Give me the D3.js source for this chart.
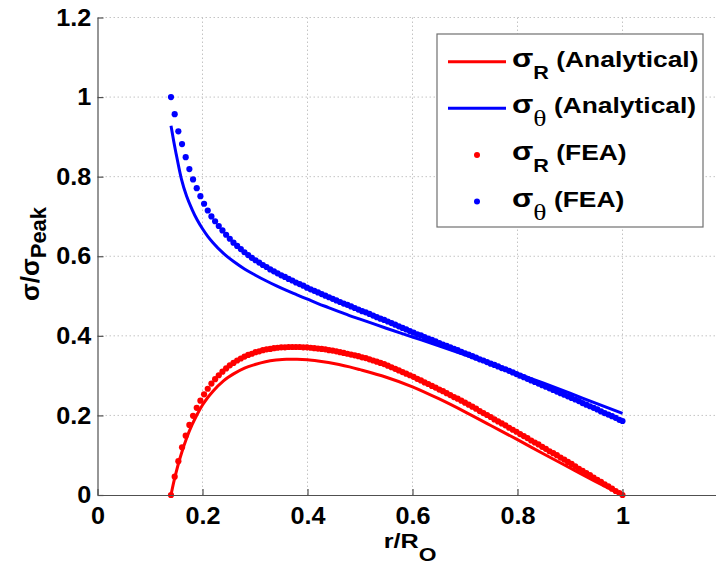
<!DOCTYPE html>
<html>
<head>
<meta charset="utf-8">
<script src="https://cdn.jsdelivr.net/npm/d3@7"></script>
<style>
  html, body { margin: 0; padding: 0; background: #fff; }
  svg { display: block; }
  text { font-family: "Liberation Sans", Arial, sans-serif; font-weight: bold; fill: #000; }
</style>
</head>
<body>
<svg id="chart" width="716" height="570"></svg>
<script>
// Normalised radius r/Ro of the FEA nodes
const feaRadius = [
  0.140,0.147,0.154,0.161,0.168,0.175,0.182,0.189,0.196,0.203,
  0.210,0.217,0.224,0.231,0.238,0.245,0.252,0.259,0.266,0.273,
  0.280,0.287,0.294,0.301,0.308,0.315,0.322,0.329,0.336,0.343,
  0.350,0.357,0.364,0.371,0.378,0.385,0.392,0.399,0.406,0.413,
  0.420,0.427,0.434,0.441,0.448,0.455,0.462,0.469,0.476,0.483,
  0.490,0.497,0.504,0.511,0.518,0.525,0.532,0.539,0.546,0.553,
  0.560,0.567,0.574,0.581,0.588,0.595,0.602,0.609,0.616,0.623,
  0.630,0.637,0.644,0.651,0.658,0.665,0.672,0.679,0.686,0.693,
  0.700,0.707,0.714,0.721,0.728,0.735,0.742,0.749,0.756,0.763,
  0.770,0.777,0.784,0.791,0.798,0.805,0.812,0.819,0.826,0.833,
  0.840,0.847,0.854,0.861,0.868,0.875,0.882,0.889,0.896,0.903,
  0.910,0.917,0.924,0.931,0.938,0.945,0.952,0.959,0.966,0.973,
  0.980,0.987,0.994,1.000
];

// FEA radial stress, sigma_R / sigma_peak
const feaRadial = [
  0.000,0.046,0.085,0.120,0.149,0.176,0.199,0.219,0.237,0.253,
  0.267,0.280,0.291,0.301,0.310,0.318,0.326,0.332,0.338,0.343,
  0.348,0.352,0.355,0.359,0.361,0.364,0.366,0.367,0.369,0.370,
  0.371,0.371,0.372,0.372,0.372,0.372,0.371,0.371,0.370,0.369,
  0.368,0.367,0.366,0.364,0.363,0.361,0.359,0.357,0.355,0.353,
  0.351,0.349,0.346,0.344,0.341,0.338,0.335,0.332,0.329,0.325,
  0.321,0.317,0.313,0.309,0.305,0.301,0.297,0.292,0.288,0.283,
  0.279,0.274,0.270,0.265,0.261,0.256,0.251,0.246,0.242,0.237,
  0.232,0.227,0.222,0.217,0.211,0.206,0.201,0.196,0.190,0.185,
  0.180,0.175,0.169,0.164,0.159,0.153,0.148,0.143,0.137,0.132,
  0.127,0.121,0.116,0.110,0.105,0.100,0.094,0.089,0.083,0.078,
  0.072,0.066,0.061,0.055,0.050,0.044,0.038,0.033,0.027,0.022,
  0.016,0.010,0.005,0.000
];

// FEA hoop stress, sigma_theta / sigma_peak
const feaHoop = [
  1.000,0.957,0.914,0.882,0.849,0.819,0.793,0.771,0.751,0.732,
  0.715,0.700,0.688,0.676,0.665,0.654,0.644,0.634,0.626,0.618,
  0.610,0.603,0.596,0.590,0.584,0.578,0.573,0.567,0.562,0.557,
  0.552,0.548,0.543,0.539,0.534,0.530,0.526,0.521,0.517,0.513,
  0.509,0.505,0.501,0.497,0.493,0.489,0.485,0.481,0.478,0.474,
  0.470,0.466,0.462,0.459,0.455,0.451,0.447,0.443,0.440,0.436,
  0.432,0.428,0.424,0.420,0.416,0.412,0.408,0.404,0.401,0.397,
  0.393,0.390,0.386,0.382,0.378,0.375,0.371,0.367,0.364,0.360,
  0.356,0.353,0.349,0.345,0.341,0.338,0.334,0.330,0.327,0.323,
  0.319,0.316,0.312,0.308,0.304,0.300,0.296,0.292,0.288,0.284,
  0.280,0.276,0.272,0.268,0.264,0.260,0.256,0.252,0.248,0.244,
  0.240,0.236,0.231,0.227,0.223,0.219,0.215,0.210,0.206,0.202,
  0.198,0.194,0.189,0.186
];

// Analytical solution, sampled radii
const anRadius = [
  0.140,0.145,0.150,0.155,0.160,0.170,0.180,0.190,0.200,0.210,0.220,
  0.240,0.260,0.280,0.300,0.320,0.340,0.360,0.380,0.400,0.420,0.440,
  0.460,0.480,0.500,0.550,0.600,0.650,0.700,0.750,0.800,0.850,0.900,
  0.950,1.000
];
const anRadial = [
  0.000,0.031,0.058,0.083,0.105,0.144,0.176,0.203,0.226,0.245,0.261,
  0.287,0.305,0.319,0.328,0.335,0.339,0.341,0.341,0.340,0.337,0.333,
  0.328,0.322,0.315,0.296,0.272,0.242,0.209,0.174,0.139,0.103,0.068,
  0.033,0.000
];
const anHoop = [
  0.928,0.890,0.856,0.823,0.793,0.750,0.718,0.691,0.669,0.650,0.634,
  0.607,0.586,0.568,0.553,0.539,0.526,0.514,0.503,0.492,0.481,0.471,
  0.461,0.451,0.442,0.419,0.397,0.375,0.352,0.329,0.305,0.281,0.256,
  0.230,0.205
];

// Axis ticks
const xTickValues = [0, 0.2, 0.4, 0.6, 0.8, 1];
const xTickLabels = ["0", "0.2", "0.4", "0.6", "0.8", "1"];
const yTickValues = [0, 0.2, 0.4, 0.6, 0.8, 1, 1.2];
const yTickLabels = ["0", "0.2", "0.4", "0.6", "0.8", "1", "1.2"];

// Legend entries
const legendSubs = ["R", "θ", "R", "θ"];
const legendNotes = ["(Analytical)", "(Analytical)", "(FEA)", "(FEA)"];
const legendKinds = ["line", "line", "dot", "dot"];
const legendColors = ["#ff0000", "#0000ff", "#ff0000", "#0000ff"];

const RED = "#ff0000", BLUE = "#0000ff";
const svg = d3.select("#chart");
svg.append("rect").attr("width", 716).attr("height", 570).attr("fill", "#fff");

const x = d3.scaleLinear().domain([0, 1.2]).range([97.5, 727.5]);
const y = d3.scaleLinear().domain([0, 1.2]).range([495, 17.5]);

// dotted grid
const grid = svg.append("g").attr("stroke", "#c4c4c4").attr("stroke-width", 1)
  .attr("stroke-dasharray", "1.5,2.5").attr("fill", "none");
grid.selectAll("line.v").data(xTickValues.filter(d => d > 0)).join("line")
  .attr("x1", d => x(d)).attr("x2", d => x(d))
  .attr("y1", y(0)).attr("y2", y(1.2));
grid.selectAll("line.h").data(yTickValues.filter(d => d > 0)).join("line")
  .attr("x1", x(0)).attr("x2", 716)
  .attr("y1", d => y(d)).attr("y2", d => y(d));

// analytical curves
const anLine = (vals) => d3.line()
  .x((d, i) => x(anRadius[i]))
  .y((d, i) => y(vals[i]))
  .curve(d3.curveMonotoneX)(vals);

svg.append("path").attr("d", anLine(anRadial))
  .attr("fill", "none").attr("stroke", RED).attr("stroke-width", 3);
svg.append("path").attr("d", anLine(anHoop))
  .attr("fill", "none").attr("stroke", BLUE).attr("stroke-width", 3);

// FEA points
svg.append("g").selectAll("circle").data(feaRadial).join("circle")
  .attr("cx", (d, i) => x(feaRadius[i])).attr("cy", d => y(d))
  .attr("r", 3.1).attr("fill", RED);
svg.append("g").selectAll("circle").data(feaHoop).join("circle")
  .attr("cx", (d, i) => x(feaRadius[i])).attr("cy", d => y(d))
  .attr("r", 3.1).attr("fill", BLUE);

// axes with inward ticks
const AXIS = "#505050";
const gx = svg.append("g").attr("transform", `translate(0,${y(0)})`)
  .call(d3.axisBottom(x).tickValues(xTickValues)
    .tickFormat((d, i) => xTickLabels[i])
    .tickSize(-6).tickSizeOuter(0).tickPadding(12));
const gy = svg.append("g").attr("transform", `translate(${x(0)},0)`)
  .call(d3.axisLeft(y).tickValues(yTickValues)
    .tickFormat((d, i) => yTickLabels[i])
    .tickSize(-6).tickSizeOuter(0).tickPadding(6));
[gx, gy].forEach(g => {
  g.select(".domain").attr("stroke", AXIS).attr("stroke-width", 1.2);
  g.selectAll(".tick line").attr("stroke", AXIS).attr("stroke-width", 1.2);
  g.selectAll(".tick text")
    .attr("font-family", "'Liberation Sans', Arial, sans-serif")
    .attr("font-weight", "bold").attr("font-size", 24).attr("fill", "#000")
    .attr("transform", "scale(1.05,1)");
});

// axis titles
const xt = svg.append("text")
  .attr("transform", "translate(410,548) scale(1.2,1)")
  .attr("text-anchor", "middle").attr("font-size", 21);
xt.append("tspan").text("r/R");
xt.append("tspan").attr("font-size", 19).attr("dy", 13).text("O");

const yt = svg.append("text")
  .attr("transform", "translate(39,254) rotate(-90)")
  .attr("text-anchor", "middle").attr("font-size", 25);
yt.append("tspan").attr("font-size", 26).text("σ/σ");
yt.append("tspan").attr("font-size", 22).attr("dy", 7).text("Peak");

// legend
const lg = svg.append("g");
lg.append("rect").attr("x", 437).attr("y", 34).attr("width", 266).attr("height", 193)
  .attr("fill", "#fff").attr("stroke", "#707070").attr("stroke-width", 1.2);
const rowBase = [66.7, 113.3, 160, 206.5];
legendNotes.forEach((note, i) => {
  const b = rowBase[i];
  if (legendKinds[i] === "line") {
    lg.append("line").attr("x1", 448).attr("x2", 506)
      .attr("y1", b - 5).attr("y2", b - 5)
      .attr("stroke", legendColors[i]).attr("stroke-width", 3);
  } else {
    lg.append("circle").attr("cx", 477).attr("cy", b - 5).attr("r", 3)
      .attr("fill", legendColors[i]);
  }
  const t = lg.append("text")
    .attr("transform", `translate(512,${b}) scale(1.2,1)`)
    .attr("font-size", 22);
  t.append("tspan").attr("font-size", 26).text("σ");
  const sub = legendSubs[i];
  if (sub === "θ") {
    t.append("tspan").attr("font-family", "'Liberation Serif', 'DejaVu Serif', serif")
      .attr("font-weight", "normal").attr("font-size", 23).attr("dy", 13).text(sub);
  } else {
    t.append("tspan").attr("font-size", 18).attr("dy", 12).text(sub);
  }
  t.append("tspan").attr("dy", sub === "θ" ? -13 : -12).text(" " + note);
});
</script>
</body>
</html>
